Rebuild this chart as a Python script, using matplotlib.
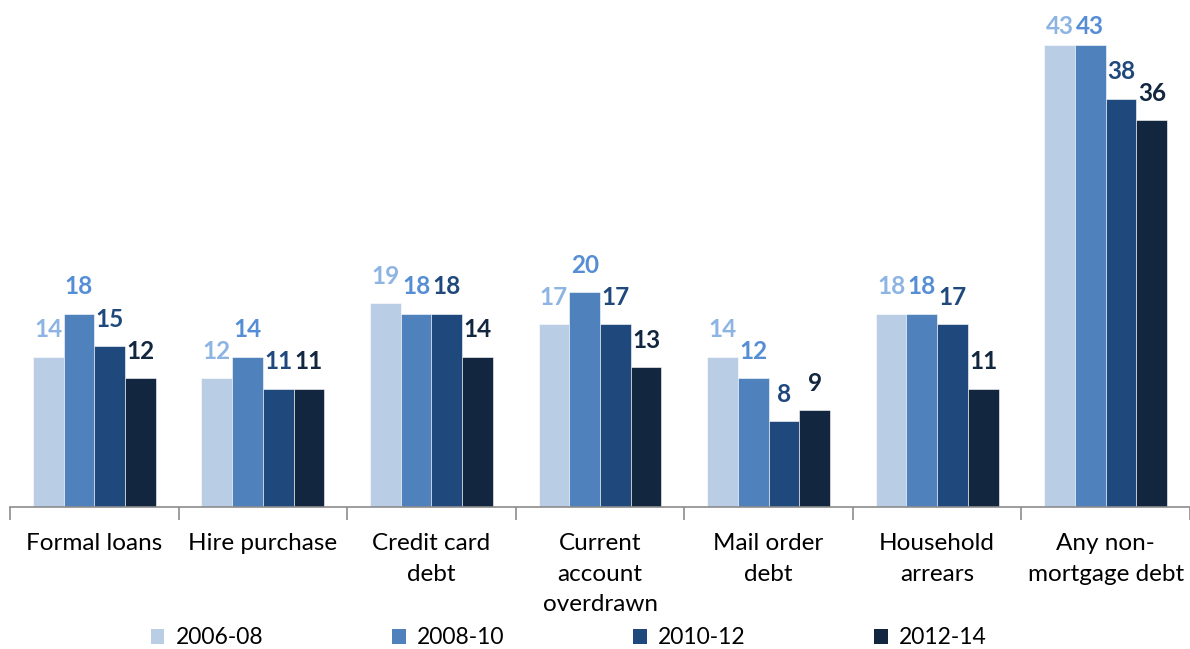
import numpy as np
import matplotlib.pyplot as plt
from matplotlib.patches import Patch

plt.rcParams['font.family'] = ['Lato', 'DejaVu Sans']

categories = ['Formal loans', 'Hire purchase', 'Credit card\ndebt',
              'Current\naccount\noverdrawn', 'Mail order\ndebt',
              'Household\narrears', 'Any non-\nmortgage debt']
periods = ['2006-08', '2008-10', '2010-12', '2012-14']
values = [
    [14, 12, 19, 17, 14, 18, 43],
    [18, 14, 18, 20, 12, 18, 43],
    [15, 11, 18, 17, 8, 17, 38],
    [12, 11, 14, 13, 9, 11, 36],
]

bar_colors = ['#B9CDE5', '#4F81BD', '#1F497D', '#12263F']
label_colors = ['#8DB4E2', '#558ED5', '#1F497D', '#12263F']

fig = plt.figure(figsize=(11.9, 6.49), dpi=100)
ax = fig.add_axes([10 / 1190, (649 - 507) / 649, 1180 / 1190, 507 / 649])

ymax = 47.2
x = np.arange(len(categories))
w = 0.182
for i, vals in enumerate(values):
    pos = x + (i - 1.5) * w
    bars = ax.bar(pos, vals, w, color=bar_colors[i], edgecolor='white', linewidth=0.4)
    for b, v in zip(bars, vals):
        # keep the label inside the plot area for the tallest bars
        ly = min(v + 2.5, ymax - 2.5)
        ax.text(b.get_x() + b.get_width() / 2, ly, str(v),
                ha='center', va='center', fontsize=17.5, fontweight='bold',
                color=label_colors[i])

ax.set_xlim(-0.5, len(categories) - 0.5)
ax.set_ylim(0, ymax)
ax.set_yticks([])
for s in ['top', 'right', 'left']:
    ax.spines[s].set_visible(False)
ax.spines['bottom'].set_color('#8C8C8C')
ax.spines['bottom'].set_linewidth(1.2)

ax.set_xticks(x)
ax.set_xticklabels(categories, fontsize=17.5, linespacing=1.56, va='top')
ax.tick_params(axis='x', which='major', length=0, pad=19)
ax.set_xticks(np.arange(len(categories) + 1) - 0.5, minor=True)
ax.tick_params(axis='x', which='minor', length=9, width=1.2, color='#8C8C8C')

handles = [Patch(facecolor=c) for c in bar_colors]
fig.legend(handles, periods, loc='center', bbox_to_anchor=(0.478, 1 - 638 / 649),
           ncol=4, frameon=False, fontsize=16.5, handlelength=0.6, handleheight=0.6,
           handletextpad=0.5, columnspacing=5.6)

fig.savefig('out.png', dpi=100)
